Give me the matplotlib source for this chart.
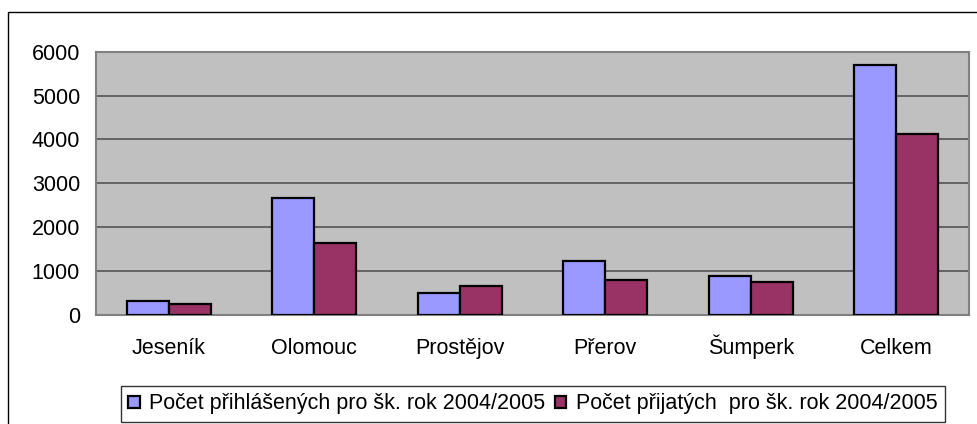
import matplotlib
matplotlib.use("Agg")
import matplotlib.pyplot as plt
import numpy as np
from matplotlib.patches import Rectangle

plt.rcParams['font.family'] = ['Liberation Sans', 'DejaVu Sans']

categories = ["Jeseník", "Olomouc", "Prostějov", "Přerov", "Šumperk", "Celkem"]
prihlaseni = [320, 2670, 500, 1230, 890, 5690]
prijati = [245, 1645, 655, 790, 740, 4115]
series_names = ["Počet přihlášených pro šk. rok 2004/2005",
                "Počet přijatých  pro šk. rok 2004/2005"]
yticks = [0, 1000, 2000, 3000, 4000, 5000, 6000]

W, H = 977, 424
FS = 15.5
fig = plt.figure(figsize=(W / 100, H / 100), dpi=100)
fig.patch.set_facecolor("white")

# outer chart frame (clipped at right/bottom like the reference)
fig.patches.append(Rectangle((7.5 / W, -0.05), 1.2, 1 - 12 / H + 0.05,
                             transform=fig.transFigure, fill=False,
                             edgecolor="black", linewidth=1.0))

ax = fig.add_axes([96 / W, 1 - 314.7 / H, (969 - 96) / W, (314.7 - 51.7) / H])
ax.set_facecolor("#C0C0C0")
x = np.arange(len(categories))
bw = 0.29
ax.bar(x - bw / 2, prihlaseni, bw, color="#9999FF", edgecolor="black",
       linewidth=1.6, label=series_names[0], zorder=3)
ax.bar(x + bw / 2, prijati, bw, color="#993366", edgecolor="black",
       linewidth=1.6, label=series_names[1], zorder=3)

ax.set_xlim(-0.5, len(categories) - 0.5)
ax.set_ylim(0, 6000)
ax.set_yticks(yticks)
ax.set_yticklabels([str(v) for v in yticks])
ax.set_xticks(x)
ax.set_xticklabels(categories, va="baseline")
ax.yaxis.grid(True, color="#555555", linewidth=1.2, zorder=1)
ax.set_axisbelow(True)
ax.tick_params(axis="both", length=0, labelsize=FS, colors="black")
ax.tick_params(axis="y", pad=11.5)
ax.tick_params(axis="x", pad=28)
for s in ax.spines.values():
    s.set_color("#808080")
    s.set_linewidth(1.5)

leg = fig.legend(loc="center", bbox_to_anchor=(533 / W, 1 - 404 / H), ncol=2,
                 frameon=True, fancybox=False, edgecolor="black",
                 fontsize=FS, handlelength=0.52, handleheight=0.52,
                 handletextpad=0.45, columnspacing=0.45, borderpad=0.35,
                 borderaxespad=0)
leg.get_frame().set_linewidth(1.0)

fig.savefig("out.png", dpi=100)
